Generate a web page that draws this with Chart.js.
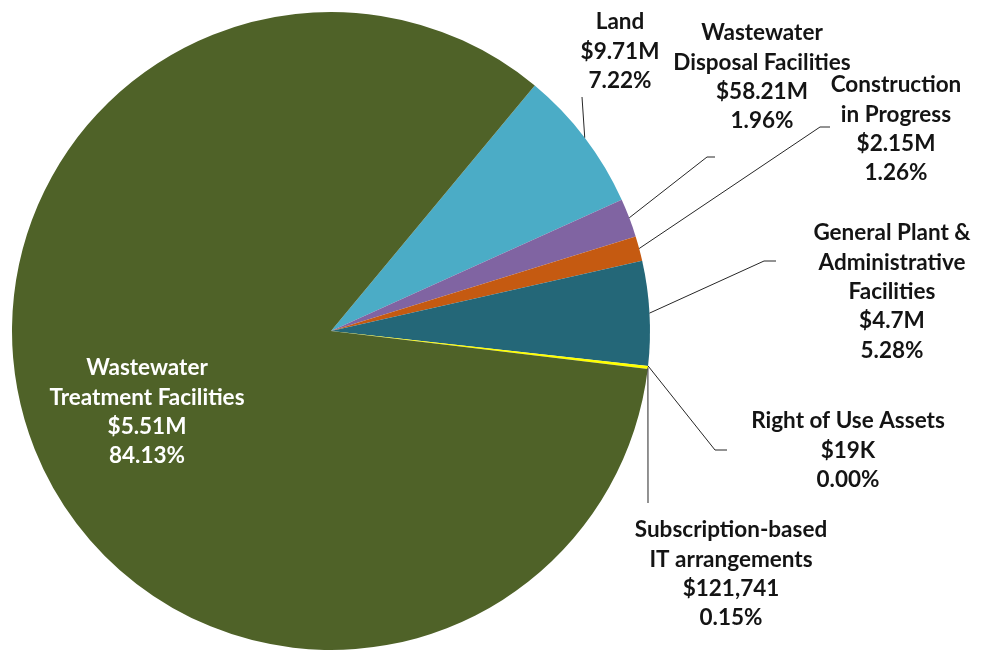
<!DOCTYPE html>
<html>
<head>
<meta charset="utf-8">
<script src="https://cdn.jsdelivr.net/npm/chart.js@4"></script>
<style>
  html, body { margin: 0; padding: 0; background: #fff; }
  #wrap { width: 987px; height: 652px; }
</style>
</head>
<body>
<div id="wrap"><canvas id="pie" width="987" height="652"></canvas></div>
<script>
// data (order = clockwise from the Land slice)
const categories = [
  "Land",
  "Wastewater Disposal Facilities",
  "Construction in Progress",
  "General Plant & Administrative Facilities",
  "Right of Use Assets",
  "Subscription-based IT arrangements",
  "Wastewater Treatment Facilities"
];
const nameLines = [
  ["Land"],
  ["Wastewater", "Disposal Facilities"],
  ["Construction", "in Progress"],
  ["General Plant &", "Administrative", "Facilities"],
  ["Right of Use Assets"],
  ["Subscription-based", "IT arrangements"],
  ["Wastewater", "Treatment Facilities"]
];
const amounts = ["$9.71M", "$58.21M", "$2.15M", "$4.7M", "$19K", "$121,741", "$5.51M"];
const percents = [7.22, 1.96, 1.26, 5.28, 0.00, 0.15, 84.13];
const colors = ["#4BACC6", "#8064A2", "#C55A11", "#246778", "#7F7F7F", "#FFFF00", "#4F6228"];

// label placement: centre x, first line y, leader bend points (from slice edge outwards)
const labelLayout = [
  { x: 620, y: 22, leader: [[582, 97]] },
  { x: 762, y: 33, leader: [[707, 157], [715, 157]] },
  { x: 896, y: 85, leader: [[820, 127], [830, 127]] },
  { x: 892, y: 233, leader: [[764, 261], [776, 261]] },
  { x: 848, y: 421, leader: [[715, 450], [727, 450]] },
  { x: 731, y: 530, leader: [[648, 503]] },
  { x: 147, y: 368, leader: null, color: "#FFFFFF" }
];
const lineHeight = 29.4;

const pieLabels = {
  id: "pieLabels",
  afterDatasetsDraw(chart) {
    const ctx = chart.ctx;
    const meta = chart.getDatasetMeta(0);
    ctx.save();
    meta.data.forEach((arc, i) => {
      const p = arc.getProps(["x", "y", "startAngle", "endAngle", "outerRadius"], true);
      const mid = (p.startAngle + p.endAngle) / 2;
      const ex = p.x + Math.cos(mid) * p.outerRadius;
      const ey = p.y + Math.sin(mid) * p.outerRadius;
      const lay = labelLayout[i];
      if (lay.leader) {
        ctx.beginPath();
        ctx.strokeStyle = "#262626";
        ctx.lineWidth = 1;
        ctx.moveTo(ex, ey);
        lay.leader.forEach(pt => ctx.lineTo(pt[0], pt[1]));
        ctx.stroke();
      }
      const lines = nameLines[i].concat([amounts[i], percents[i].toFixed(2) + "%"]);
      ctx.fillStyle = lay.color || "#141414";
      ctx.font = "bold 22.5px Lato";
      ctx.textAlign = "center";
      ctx.textBaseline = "middle";
      lines.forEach((t, k) => ctx.fillText(t, lay.x, lay.y + k * lineHeight));
    });
    ctx.restore();
  }
};

new Chart(document.getElementById("pie"), {
  type: "pie",
  data: {
    labels: categories,
    datasets: [{
      data: percents,
      backgroundColor: colors,
      borderWidth: 0
    }]
  },
  options: {
    responsive: false,
    animation: false,
    rotation: 39.7,
    layout: { padding: { left: 12, top: 12, right: 337, bottom: 2 } },
    plugins: { legend: { display: false }, tooltip: { enabled: false } }
  },
  plugins: [pieLabels]
});
</script>
</body>
</html>
